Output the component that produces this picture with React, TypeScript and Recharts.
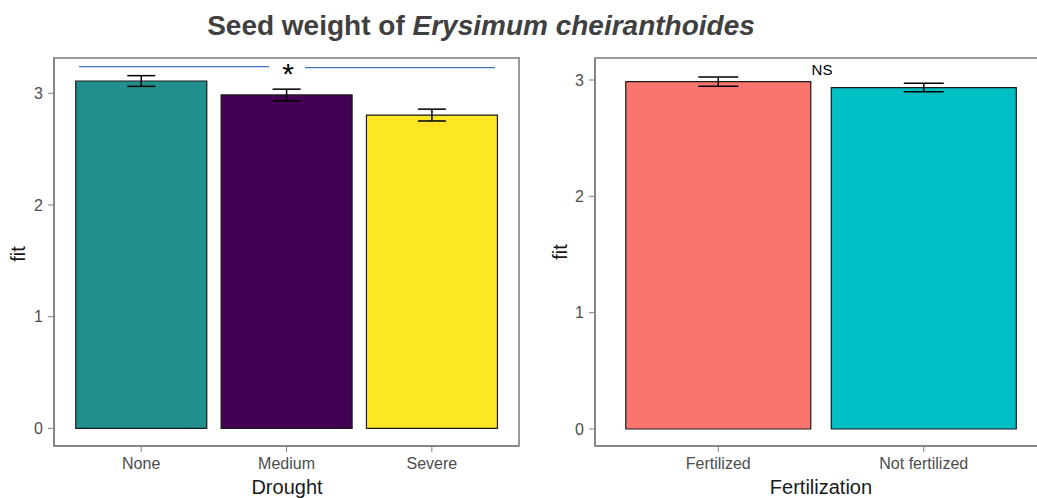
import { BarChart, Bar, XAxis, YAxis, Cell, ErrorBar } from 'recharts';

const droughtLevels = ['None', 'Medium', 'Severe'];
const droughtFit = [3.11, 2.985, 2.805];
const droughtSe = [0.048, 0.052, 0.053];
const droughtColors = ['#21908C', '#440154', '#FDE725'];

const fertLevels = ['Fertilized', 'Not fertilized'];
const fertFit = [2.986, 2.935];
const fertSe = [0.04, 0.037];
const fertColors = ['#F8766D', '#00BFC4'];

const yTicks = [0, 1, 2, 3];

const FONT = '"Liberation Sans", Arial, sans-serif';
const FRAME = { stroke: '#808080', strokeWidth: 1.6 };
const TICK = { fontSize: 16, fill: '#4D4D4D', fontFamily: FONT };

const droughtData = droughtLevels.map((level, i) => ({
  level,
  fit: droughtFit[i],
  se: droughtSe[i],
}));

const fertData = fertLevels.map((level, i) => ({
  level,
  fit: fertFit[i],
  se: fertSe[i],
}));

interface PanelProps {
  data: { level: string; fit: number; se: number }[];
  colors: string[];
  domain: [number, number];
  pad: number;
  capWidth: number;
  width: number;
  margin: { top: number; right: number; bottom: number; left: number };
}

function Panel({ data, colors, domain, pad, capWidth, width, margin }: PanelProps) {
  return (
    <BarChart width={width} height={498} data={data} margin={margin} barCategoryGap="5%">
      <XAxis
        dataKey="level"
        height={30}
        padding={{ left: pad, right: pad }}
        tick={TICK}
        tickSize={6}
        tickMargin={6}
        axisLine={FRAME}
        tickLine={{ stroke: '#808080' }}
      />
      <YAxis
        type="number"
        domain={domain}
        allowDataOverflow
        ticks={yTicks}
        width={40}
        tick={TICK}
        tickSize={6}
        tickMargin={5}
        axisLine={FRAME}
        tickLine={{ stroke: '#808080' }}
      />
      <Bar dataKey="fit" stroke="#1a1a1a" strokeWidth={1.2} isAnimationActive={false}>
        {data.map((d, i) => (
          <Cell key={d.level} fill={colors[i]} />
        ))}
        <ErrorBar dataKey="se" width={capWidth} stroke="#000" strokeWidth={1.5} direction="y" />
      </Bar>
    </BarChart>
  );
}

export default function App() {
  return (
    <div
      style={{
        position: 'absolute',
        left: 0,
        top: 0,
        width: 1037,
        height: 498,
        overflow: 'hidden',
        background: '#fff',
        fontFamily: FONT,
      }}
    >
      <div
        style={{
          position: 'absolute',
          left: 0,
          width: 962,
          top: 8,
          textAlign: 'center',
          fontSize: 28,
          fontWeight: 'bold',
          color: '#404040',
          lineHeight: '36px',
        }}
      >
        Seed weight of <i>Erysimum cheiranthoides</i>
      </div>

      <div style={{ position: 'absolute', left: 0, top: 0 }}>
        <Panel
          data={droughtData}
          colors={droughtColors}
          domain={[-0.158, 3.316]}
          pad={14.5}
          capWidth={14}
          width={530}
          margin={{ top: 58, right: 11, bottom: 22, left: 14 }}
        />
      </div>

      <div style={{ position: 'absolute', left: 540, top: 0 }}>
        <Panel
          data={fertData}
          colors={fertColors}
          domain={[-0.146, 3.189]}
          pad={20.5}
          capWidth={20}
          width={520}
          margin={{ top: 58, right: 13, bottom: 22, left: 15 }}
        />
      </div>

      {/* panel borders (top/right) and significance annotations */}
      <svg width={1037} height={498} style={{ position: 'absolute', left: 0, top: 0, pointerEvents: 'none' }}>
        <rect x={54} y={58} width={465} height={388} fill="none" stroke="#808080" strokeWidth={1.6} />
        <rect x={595} y={58} width={452} height={388} fill="none" stroke="#808080" strokeWidth={1.6} />
        <line x1={79} y1={66.7} x2={269} y2={66.7} stroke="#4472C4" strokeWidth={1.3} />
        <line x1={305} y1={67.7} x2={495} y2={67.7} stroke="#4472C4" strokeWidth={1.3} />
        <text x={288} y={84} textAnchor="middle" fontSize={30} fontFamily={FONT} fill="#000">
          *
        </text>
        <text x={822} y={75} textAnchor="middle" fontSize={15} fontFamily={FONT} fill="#000">
          NS
        </text>
        <text x={287} y={494} textAnchor="middle" fontSize={20} fontFamily={FONT} fill="#1a1a1a">
          Drought
        </text>
        <text x={821} y={494} textAnchor="middle" fontSize={20} fontFamily={FONT} fill="#1a1a1a">
          Fertilization
        </text>
        <text x={25} y={254} textAnchor="middle" fontSize={20} fontFamily={FONT} fill="#1a1a1a" transform="rotate(-90 25 254)">
          fit
        </text>
        <text x={567} y={252} textAnchor="middle" fontSize={20} fontFamily={FONT} fill="#1a1a1a" transform="rotate(-90 567 252)">
          fit
        </text>
      </svg>
    </div>
  );
}
